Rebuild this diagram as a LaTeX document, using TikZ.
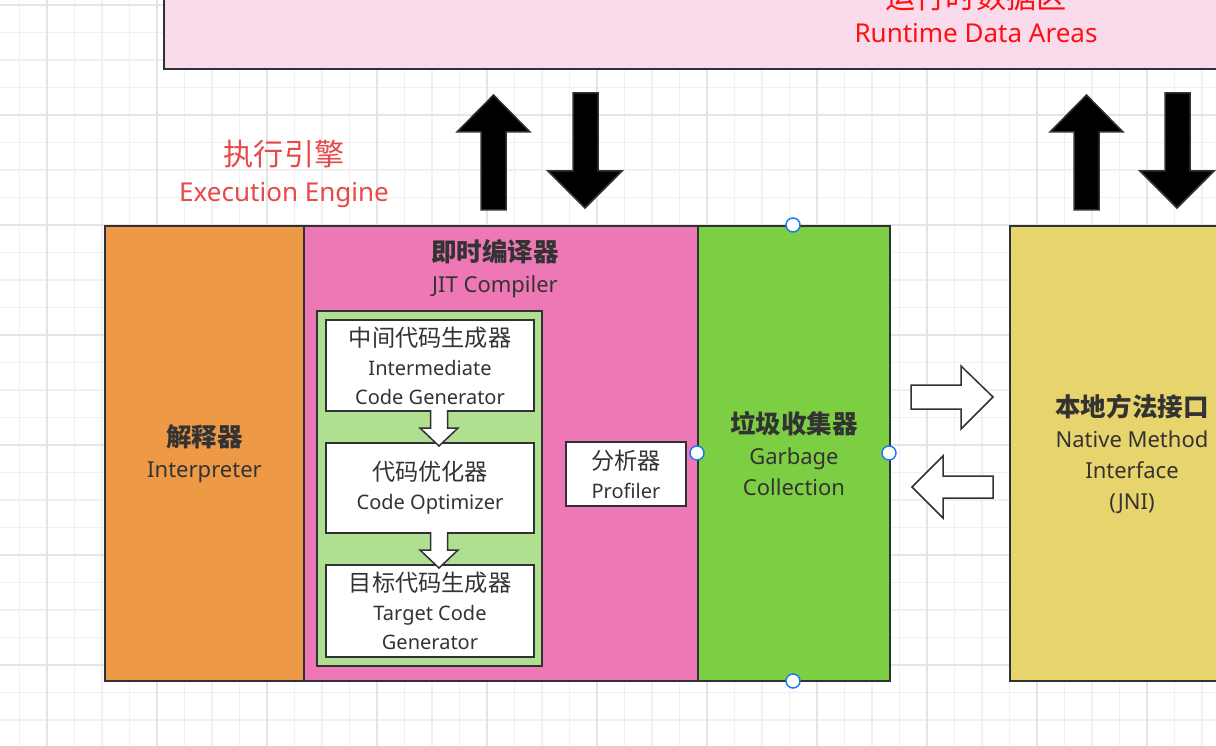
\documentclass[tikz,border=0pt]{standalone}
\usepackage{fontspec}
\setmainfont{Noto Sans}
\newfontfamily\cjk[Scale=1.16]{Noto Sans CJK SC}
\definecolor{edge}{HTML}{2E3238}
\definecolor{txt}{HTML}{333333}
\definecolor{gridminor}{HTML}{F0F0F0}
\definecolor{gridmajor}{HTML}{E4E4E4}
\definecolor{pinkbg}{HTML}{F9DBEB}
\definecolor{orangeF}{HTML}{ED9945}
\definecolor{pinkF}{HTML}{EE77B5}
\definecolor{greenF}{HTML}{7CCF42}
\definecolor{yellowF}{HTML}{E8D46C}
\definecolor{lightgreen}{HTML}{B0E08F}
\definecolor{redA}{HTML}{FF1010}
\definecolor{redB}{HTML}{E64A4A}
\definecolor{handle}{HTML}{1A7CF0}
\begin{document}
\begin{tikzpicture}[x=1pt,y=-1pt,
  box/.style={draw=edge, line width=2pt, anchor=north west, inner sep=0pt, align=center, text=txt},
  big/.style={font=\fontsize{22}{31}\selectfont},
  small/.style={font=\fontsize{20}{29}\selectfont},
  blockarrow/.style={draw=edge, line width=1.5pt, line join=miter},
  handlec/.style={circle, draw=handle, fill=white, line width=1.5pt, minimum size=14pt, inner sep=0pt}
]
\useasboundingbox (0,0) rectangle (1216,746);
\clip (0,0) rectangle (1216,746);
\fill[white] (0,0) rectangle (1216,746);
% grid
\foreach \i in {0,...,44} \draw[gridminor, line width=1.2pt] ({19.5+27.5*\i},0) -- ({19.5+27.5*\i},746);
\foreach \i in {0,...,27} \draw[gridminor, line width=1.2pt] (0,{5+27.5*\i}) -- (1216,{5+27.5*\i});
\foreach \i in {0,...,11} \draw[gridmajor, line width=1.4pt] ({47+110*\i},0) -- ({47+110*\i},746);
\foreach \i in {0,...,7} \draw[gridmajor, line width=1.4pt] (0,{5+110*\i}) -- (1216,{5+110*\i});

% runtime data areas
\node[box, fill=pinkbg, minimum width=1626pt, minimum height=107pt] (rda) at (163,-39) {};
\node[text=redA, align=center, font=\fontsize{26}{34}\selectfont] (rdal) at (976,13) {{\cjk 运行时数据区}\\Runtime Data Areas};

% execution engine label
\node[text=redB, align=center, font=\fontsize{26}{36}\selectfont] (eel) at (284,174) {{\cjk 执行引擎}\\Execution Engine};

% main boxes
\node[box, big, fill=orangeF, minimum width=199pt, minimum height=455pt] (interp) at (104,225) {{\cjk\bfseries 解释器}\\Interpreter};
\node[box, fill=pinkF, minimum width=394pt, minimum height=455pt] (jit) at (303,225) {};
\node[big, text=txt, align=center] (jitl) at (495,269) {{\cjk\bfseries 即时编译器}\\JIT Compiler};
\node[box, big, fill=greenF, minimum width=192pt, minimum height=455pt] (gc) at (697,225) {{\cjk\bfseries 垃圾收集器}\\Garbage\\Collection};
\node[box, big, fill=yellowF, minimum width=244pt, minimum height=455pt] (jni) at (1009,225) {{\cjk\bfseries 本地方法接口}\\Native Method\\Interface\\(JNI)};

% inner pipeline
\node[box, fill=lightgreen, minimum width=225pt, minimum height=355pt] (pipe) at (316,310) {};
\node[box, small, fill=white, minimum width=208pt, minimum height=91pt] (icg) at (325,319) {{\cjk 中间代码生成器}\\Intermediate\\Code Generator};
\node[box, small, fill=white, minimum width=208pt, minimum height=90pt] (opt) at (325,442) {{\cjk 代码优化器}\\Code Optimizer};
\node[box, small, fill=white, minimum width=208pt, minimum height=92pt] (tcg) at (325,564) {{\cjk 目标代码生成器}\\Target Code\\Generator};
\node[box, small, fill=white, minimum width=120pt, minimum height=64pt] (prof) at (565,441) {{\cjk 分析器}\\Profiler};

% small white arrows
\draw[blockarrow, fill=white] (430.5,410) -- (430.5,428) -- (420,428) -- (439,446) -- (458,428) -- (447.5,428) -- (447.5,410);
\draw[blockarrow, fill=white] (430.5,532) -- (430.5,550) -- (420,550) -- (439,568) -- (458,550) -- (447.5,550) -- (447.5,532);

% big black arrows
\draw[blockarrow, fill=black] (481,210) -- (481,132) -- (457,132) -- (493.5,95) -- (530,132) -- (506,132) -- (506,210) -- cycle;
\draw[blockarrow, fill=black] (573,93) -- (598,93) -- (598,171) -- (622,171) -- (585,208) -- (548,171) -- (573,171) -- cycle;
\draw[blockarrow, fill=black] (1074,210) -- (1074,132) -- (1050,132) -- (1086.5,95) -- (1123,132) -- (1099,132) -- (1099,210) -- cycle;
\draw[blockarrow, fill=black] (1165,93) -- (1190,93) -- (1190,171) -- (1214,171) -- (1177,208) -- (1140,171) -- (1165,171) -- cycle;

% outlined horizontal arrows
\draw[blockarrow, fill=white] (911,385) -- (961,385) -- (961,366) -- (993,397) -- (961,429) -- (961,409) -- (911,409) -- cycle;
\draw[blockarrow, fill=white] (993,476) -- (943,476) -- (943,456) -- (912,487) -- (943,518) -- (943,498) -- (993,498) -- cycle;

% selection handles
\node[handlec] (h1) at (793,225) {};
\node[handlec] (h2) at (697,453) {};
\node[handlec] (h3) at (889,453) {};
\node[handlec] (h4) at (793,681) {};
\end{tikzpicture}
\end{document}
